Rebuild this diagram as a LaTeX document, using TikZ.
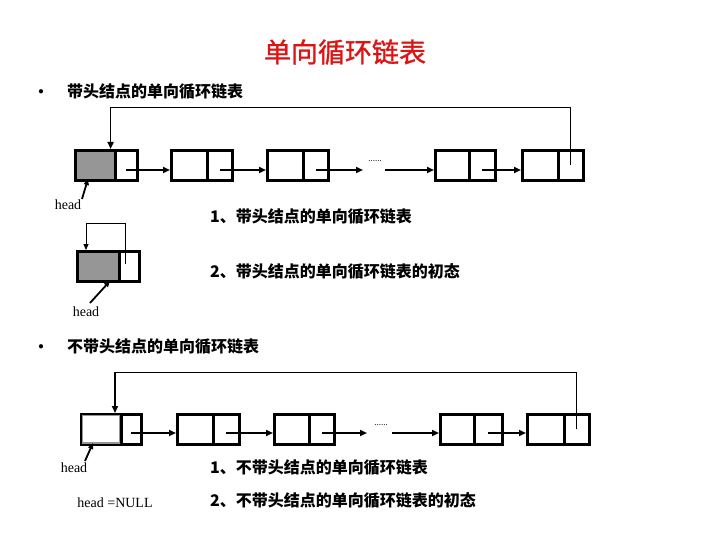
\documentclass[tikz,border=0pt]{standalone}
\usepackage{fontspec}
\newfontfamily\cjk{Noto Sans CJK SC}
\newfontfamily\cjktitle{Noto Sans CJK SC}[FakeBold=1.2]
\newfontfamily\tms{Liberation Serif}
\usetikzlibrary{arrows.meta}
\definecolor{titlered}{RGB}{220,20,20}
\definecolor{headgray}{RGB}{150,150,150}
\tikzset{
  cell/.style={draw, line width=2.6pt, minimum height=30pt, inner sep=0pt, anchor=north west},
  arr/.style={line width=1.8pt, -{Triangle[length=7pt,width=6pt]}},
  plain/.style={line width=1.8pt},
  loopline/.style={line width=0.9pt},
  loopdown/.style={line width=1.6pt, -{Triangle[length=7pt,width=6pt]}},
  hd/.style={font=\cjk\bfseries\fontsize{16}{18}\selectfont, anchor=west, inner sep=0pt},
  lbl/.style={font=\tms\fontsize{14}{16}\selectfont, inner sep=0pt},
  dots/.style={font=\tms\fontsize{9}{10}\selectfont, inner sep=0pt},
  bul/.style={font=\fontsize{11}{12}\selectfont, inner sep=0pt}
}
\begin{document}
\begin{tikzpicture}[x=1pt,y=-1pt]
\useasboundingbox (0,0) rectangle (720,540);
% title
\node[text=titlered, font=\cjktitle\fontsize{27}{30}\selectfont, inner sep=0pt] (title) at (345,52) {单向循环链表};
% section 1
\node[bul] (b1) at (41,92) {$\bullet$};
\node[hd] (s1) at (67,92) {带头结点的单向循环链表};
% top list
\node[cell, fill=headgray, minimum width=40pt] (h1d) at (74,149) {};
\node[cell, minimum width=22pt] (h1p) at (114,149) {};
\node[cell, minimum width=36pt] (n1d) at (170,149) {};
\node[cell, minimum width=25pt] (n1p) at (206,149) {};
\node[cell, minimum width=36pt] (n2d) at (266,149) {};
\node[cell, minimum width=25pt] (n2p) at (302,149) {};
\node[cell, minimum width=34pt] (n3d) at (434,149) {};
\node[cell, minimum width=26pt] (n3p) at (468,149) {};
\node[cell, minimum width=36pt] (n4d) at (521,149) {};
\node[cell, minimum width=25pt] (n4p) at (557,149) {};
\coordinate (r1) at (0,170);
\coordinate (g1a) at (363,170);
\coordinate (g1b) at (385,170);
\node[dots] (d1) at (375,161) {......};
\draw[arr] (h1p.center |- r1) -- (n1d.west |- r1);
\draw[arr] (n1p.center |- r1) -- (n2d.west |- r1);
\draw[arr] (n2p.center |- r1) -- (g1a);
\draw[arr] (g1b) -- (n3d.west |- r1);
\draw[arr] (n3p.center |- r1) -- (n4d.west |- r1);
\coordinate (t1) at (0,107);
\coordinate (e1) at ([xshift=-6pt]h1d.north east);
\draw[loopline] (n4p.center) -- (n4p.center |- t1) -- (e1 |- t1);
\draw[loopdown] (e1 |- t1) -- (e1);
\node[lbl] (hl1) at (68,205) {head};
\draw[plain, -{Triangle[length=6pt,width=5pt]}] (82,199) -- (88,179);
% labels
\node[hd] (l1) at (210,217) {1、带头结点的单向循环链表};
\node[hd] (l2) at (210,271) {2、带头结点的单向循环链表的初态};
% initial state box
\node[cell, fill=headgray, minimum width=42pt] (h2d) at (76,250) {};
\node[cell, minimum width=20pt] (h2p) at (118,250) {};
\coordinate (t2) at (0,223);
\coordinate (s2) at (125,264);
\coordinate (e2) at (86,250);
\draw[loopline] (s2) -- (s2 |- t2) -- (e2 |- t2);
\draw[loopline, -{Triangle[length=6pt,width=5pt]}] (e2 |- t2) -- (e2);
\node[lbl] (hl2) at (86,312) {head};
\draw[plain, -{Triangle[length=6pt,width=5pt]}] (90,303) -- (110,281);
% section 2
\node[bul] (b2) at (41,347) {$\bullet$};
\node[hd] (s2t) at (67,347) {不带头结点的单向循环链表};
% bottom list
\node[cell, minimum width=40pt, minimum height=30pt] (h3d) at (80,413) {};
\draw[draw=headgray, line width=1.4pt] ([shift={(2.5pt,-2.5pt)}]h3d.north west) rectangle ([shift={(-2.5pt,2.5pt)}]h3d.south east);
\node[cell, minimum width=20pt] (h3p) at (120,413) {};
\node[cell, minimum width=36pt] (n5d) at (176,413) {};
\node[cell, minimum width=26pt] (n5p) at (212,413) {};
\node[cell, minimum width=35pt] (n6d) at (273,413) {};
\node[cell, minimum width=25pt] (n6p) at (308,413) {};
\node[cell, minimum width=34pt] (n7d) at (439,413) {};
\node[cell, minimum width=28pt] (n7p) at (473,413) {};
\node[cell, minimum width=37pt] (n8d) at (526,413) {};
\node[cell, minimum width=25pt] (n8p) at (563,413) {};
\coordinate (r2) at (0,433);
\coordinate (g2a) at (367,433);
\coordinate (g2b) at (392,433);
\node[dots] (d2) at (381,425) {......};
\draw[arr] (h3p.center |- r2) -- (n5d.west |- r2);
\draw[arr] (n5p.center |- r2) -- (n6d.west |- r2);
\draw[arr] (n6p.center |- r2) -- (g2a);
\draw[arr] (g2b) -- (n7d.west |- r2);
\draw[arr] (n7p.center |- r2) -- (n8d.west |- r2);
\coordinate (t3) at (0,372);
\coordinate (e3) at (115,413);
\draw[loopline] (n8p.center) -- (n8p.center |- t3) -- (e3 |- t3);
\draw[loopdown] (e3 |- t3) -- (e3);
\node[lbl] (hl3) at (74,468) {head};
\draw[plain, -{Triangle[length=6pt,width=5pt]}] (85,461) -- (93,443);
\node[lbl] (hn) at (115,503) {head =NULL};
\node[hd] (l3) at (210,468) {1、不带头结点的单向循环链表};
\node[hd] (l4) at (210,500) {2、不带头结点的单向循环链表的初态};
\end{tikzpicture}
\end{document}
